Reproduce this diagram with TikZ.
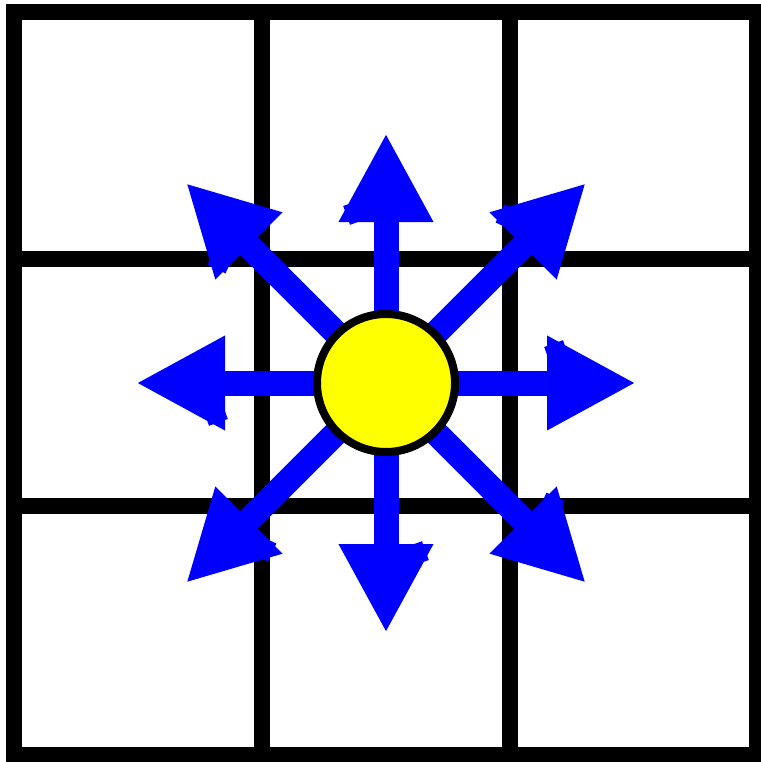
\documentclass[tikz,border=0pt]{standalone}
\usetikzlibrary{arrows.meta,calc}
\definecolor{arrblue}{RGB}{0,0,255}
\definecolor{sunyellow}{RGB}{255,255,0}
\tikzset{
  gridline/.style={line width=16pt, line cap=rect, line join=miter},
  ray/.style={line width=25pt, arrblue, -{Triangle[length=89pt,width=88pt]}},
  notch/.style={fill=arrblue, draw=none, minimum size=20pt, inner sep=0pt, rectangle},
  sun/.style={circle, draw=black, line width=8pt, fill=sunyellow, minimum size=138pt, inner sep=0pt}
}
\begin{document}
\begin{tikzpicture}[x=1pt,y=-1pt]
\useasboundingbox (0,0) rectangle (760,762);
% grid
\draw[gridline] (14,12) rectangle (757,755);
\draw[gridline] (262,12) -- (262,755);
\draw[gridline] (510,12) -- (510,755);
\draw[gridline] (14,259) -- (757,259);
\draw[gridline] (14,506) -- (757,506);
% centre and tips
\coordinate (c) at (386,383);
\coordinate (tN) at (386,133);
\coordinate (tS) at (386,633);
\coordinate (tE) at (636,383);
\coordinate (tW) at (136,383);
\coordinate (tNE) at (586,183);
\coordinate (tNW) at (186,183);
\coordinate (tSE) at (586,583);
\coordinate (tSW) at (186,583);
\foreach \t/\a in {tN/90,tS/270,tE/0,tW/180,tNE/45,tNW/135,tSE/315,tSW/225}{
  \draw[ray] (c) -- (\t);
  \coordinate (p) at ($(\t)!79pt!(c)$);
  \node[notch, rotate=\a+20] at ($(p)!30pt!90:(\t)$) {};
}
\node[sun] (sun) at (c) {};
\end{tikzpicture}
\end{document}
